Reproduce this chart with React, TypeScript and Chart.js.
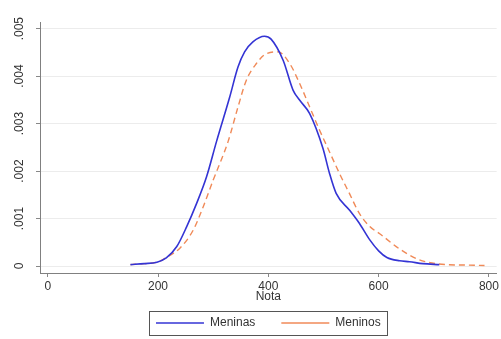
import React, { useEffect, useRef } from "react";
import { Chart, registerables } from "chart.js";

Chart.register(...registerables);

// Kernel density estimates
const meninasX = [150, 175, 198, 215, 234, 252, 270, 288, 306, 330, 345, 357, 372, 393, 405, 427, 445, 457, 475, 499, 511, 523, 547, 565, 584, 600, 615, 638, 656, 680, 710];
const meninasY = [0.00003, 0.00005, 0.00008, 0.00017, 0.00041, 0.00083, 0.00132, 0.00188, 0.00262, 0.00356, 0.00419, 0.00451, 0.00472, 0.00484, 0.00478, 0.00433, 0.0037, 0.00349, 0.00321, 0.00248, 0.00195, 0.00153, 0.00118, 0.0009, 0.00055, 0.00032, 0.00018, 0.00011, 0.00009, 0.00005, 0.00003];

const meninosX = [150, 175, 198, 218, 240, 264, 282, 300, 327, 345, 360, 378, 396, 418, 439, 457, 475, 493, 508, 529, 547, 565, 584, 602, 638, 674, 722, 760, 792];
const meninosY = [0.00003, 0.00005, 0.00008, 0.0002, 0.00038, 0.00076, 0.00125, 0.00181, 0.00262, 0.00335, 0.00391, 0.00426, 0.00447, 0.00451, 0.00426, 0.00384, 0.00335, 0.00286, 0.00248, 0.00195, 0.00153, 0.00111, 0.00083, 0.00068, 0.00036, 0.00013, 0.00003, 0.00002, 0.00001];

const xTicks = [0, 200, 400, 600, 800];
const yTicks = [0, 0.001, 0.002, 0.003, 0.004, 0.005];
const yTickLabels = ["0", ".001", ".002", ".003", ".004", ".005"];
const seriesLabels = ["Meninas", "Meninos"];
const xTitle = "Nota";

const FONT = "'Liberation Sans', Arial, sans-serif";

const legendBoxPlugin = {
  id: "legendBox",
  afterDraw(chart: any) {
    const lg = chart.legend;
    if (!lg || !lg.legendHitBoxes || !lg.legendHitBoxes.length) return;
    const hb = lg.legendHitBoxes;
    let l = Infinity, r = -Infinity, t = Infinity, b = -Infinity;
    hb.forEach((h: any) => {
      l = Math.min(l, h.left);
      r = Math.max(r, h.left + h.width);
      t = Math.min(t, h.top);
      b = Math.max(b, h.top + h.height);
    });
    const ctx = chart.ctx;
    ctx.save();
    ctx.strokeStyle = "#555555";
    ctx.lineWidth = 1;
    ctx.strokeRect(Math.round(l - 7) + 0.5, Math.round(t - 6) + 0.5, Math.round(r - l + 13), Math.round(b - t + 12));
    ctx.restore();
  },
};

export default function App() {
  const ref = useRef<HTMLCanvasElement | null>(null);

  useEffect(() => {
    if (!ref.current) return;
    Chart.defaults.font.family = FONT;
    const chart = new Chart(ref.current, {
      type: "line",
      data: {
        datasets: [
          {
            label: seriesLabels[0],
            data: meninasX.map((x, i) => ({ x, y: meninasY[i] })),
            borderColor: "#3434d4",
            backgroundColor: "transparent",
            borderWidth: 1.6,
            pointRadius: 0,
            cubicInterpolationMode: "monotone",
            pointStyle: "line",
          },
          {
            label: seriesLabels[1],
            data: meninosX.map((x, i) => ({ x, y: meninosY[i] })),
            borderColor: "#f08a58",
            backgroundColor: "transparent",
            borderWidth: 1.4,
            borderDash: [6, 4],
            pointRadius: 0,
            cubicInterpolationMode: "monotone",
            pointStyle: "line",
          },
        ],
      },
      options: {
        animation: false,
        responsive: false,
        layout: { padding: { left: 0, right: 4, top: 22, bottom: 0 } },
        plugins: {
          legend: {
            position: "bottom",
            fullSize: false,
            labels: {
              usePointStyle: true,
              pointStyleWidth: 48,
              boxHeight: 12,
              padding: 26,
              color: "#333333",
              font: { size: 12, family: FONT },
            },
          },
          tooltip: { enabled: false },
        },
        scales: {
          x: {
            type: "linear",
            min: -14,
            max: 814,
            afterBuildTicks: (s: any) => {
              s.ticks = xTicks.map((v) => ({ value: v }));
            },
            afterFit: (s: any) => {
              s.height = 18;
            },
            ticks: {
              color: "#333333",
              font: { size: 12, family: FONT },
              padding: 2,
              maxRotation: 0,
              autoSkip: false,
            },
            grid: {
              drawOnChartArea: false,
              drawTicks: true,
              tickLength: 4,
              tickColor: "#888888",
            },
            border: { display: true, color: "#808080", width: 1 },
            title: {
              display: true,
              text: xTitle,
              color: "#333333",
              font: { size: 12, family: FONT },
              padding: { top: 0, bottom: -13 },
            },
          },
          y: {
            type: "linear",
            min: -0.000147,
            max: 0.00514,
            afterBuildTicks: (s: any) => {
              s.ticks = yTicks.map((v) => ({ value: v }));
            },
            afterFit: (s: any) => {
              s.width = 40;
            },
            ticks: {
              color: "#333333",
              font: { size: 12, family: FONT },
              padding: 5,
              minRotation: 90,
              maxRotation: 90,
              crossAlign: "center",
              autoSkip: false,
              callback: (v: any) => {
                const i = yTicks.findIndex((t) => Math.abs(t - Number(v)) < 1e-9);
                return i >= 0 ? yTickLabels[i] : "";
              },
            },
            grid: {
              color: "#ececec",
              drawTicks: true,
              tickLength: 4,
              tickColor: "#888888",
            },
            border: { display: true, color: "#808080", width: 1 },
          },
        },
      },
      plugins: [legendBoxPlugin],
    } as any);
    return () => chart.destroy();
  }, []);

  return (
    <div style={{ position: "fixed", left: 0, top: 0, width: 501, height: 339, background: "#ffffff" }}>
      <canvas ref={ref} width={501} height={339} style={{ display: "block" }} />
    </div>
  );
}
